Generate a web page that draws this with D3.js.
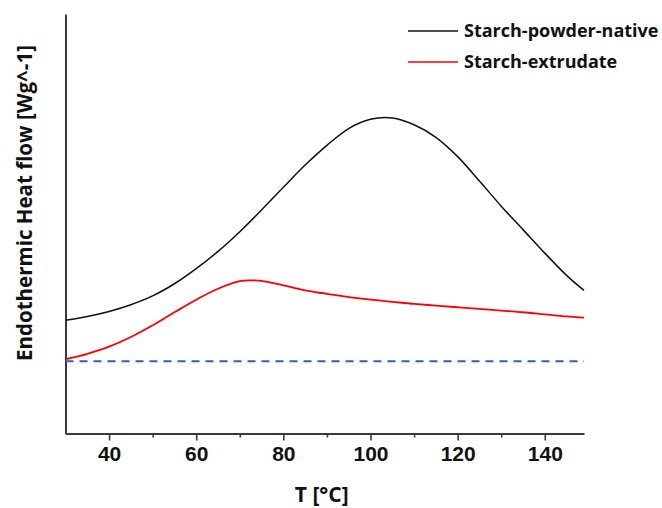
<!DOCTYPE html>
<html>
<head>
<meta charset="utf-8">
<script src="https://cdn.jsdelivr.net/npm/d3@7"></script>
<style>
  html, body { margin: 0; padding: 0; background: #fff; }
  svg { display: block; }
</style>
</head>
<body>
<svg id="chart" width="662" height="508"></svg>
<script>
// ---- data ----
const temperatures = [30, 35, 40, 45, 50, 55, 60, 65, 70, 75, 80, 85, 90, 95, 100, 105, 110, 115, 120, 125, 130, 135, 140, 145, 149];
const nativeFlow   = [0.270, 0.279, 0.291, 0.307, 0.328, 0.357, 0.393, 0.434, 0.481, 0.533, 0.587, 0.640, 0.687, 0.727, 0.749, 0.752, 0.736, 0.706, 0.660, 0.602, 0.542, 0.486, 0.430, 0.377, 0.341];
const extrudateTemps = [30, 35, 40, 45, 50, 55, 60, 65, 70, 72.5, 75, 80, 85, 90, 95, 100, 105, 110, 115, 120, 125, 130, 135, 140, 145, 149];
const extrudateFlow  = [0.177, 0.190, 0.207, 0.230, 0.258, 0.289, 0.319, 0.345, 0.363, 0.365, 0.364, 0.353, 0.341, 0.333, 0.325, 0.319, 0.314, 0.309, 0.305, 0.301, 0.297, 0.293, 0.289, 0.284, 0.279, 0.276];
const baselineTemps = [30, 149];
const baselineFlow  = [0.172, 0.172];
const xTicks = [40, 60, 80, 100, 120, 140];
const xMinorTicks = [50, 70, 90, 110, 130];
const seriesNames = ["Starch-powder-native", "Starch-extrudate"];
const seriesColors = ["#111111", "#ff0000"];
const xTitle = "T [°C]";
const yTitle = "Endothermic Heat flow [Wg^-1]";

// ---- layout ----
const svg = d3.select("#chart");
const mLeft = 65.5, mRight = 584, mTop = 14, mBottom = 433.5;

const x = d3.scaleLinear().domain([30, 149]).range([mLeft, mRight]);
const y = d3.scaleLinear().domain([0, 1]).range([mBottom, mTop]);

const axisColor = "#3a3a3a";
const tickFont = "'Liberation Sans', Arial, sans-serif";
const labelFont = "'Open Sans', 'Noto Sans', sans-serif";

// x axis
const xAxis = svg.append("g").attr("transform", `translate(0,${mBottom})`)
  .call(d3.axisBottom(x).tickValues(xTicks).tickSize(7).tickSizeOuter(0).tickPadding(6));
xAxis.select(".domain").attr("stroke", axisColor).attr("stroke-width", 2);
xAxis.selectAll(".tick line").attr("stroke", axisColor).attr("stroke-width", 1.6);
xAxis.selectAll(".tick text")
  .attr("font-family", tickFont).attr("font-weight", "bold").attr("font-size", 21)
  .attr("fill", "#111");

// minor ticks
const xMinor = svg.append("g").attr("transform", `translate(0,${mBottom})`)
  .call(d3.axisBottom(x).tickValues(xMinorTicks).tickSize(4).tickSizeOuter(0).tickFormat(""));
xMinor.select(".domain").remove();
xMinor.selectAll(".tick line").attr("stroke", axisColor).attr("stroke-width", 1.6);

// y axis (no ticks)
const yAxis = svg.append("g").attr("transform", `translate(${mLeft},0)`)
  .call(d3.axisLeft(y).tickValues([]).tickSizeOuter(0));
yAxis.select(".domain").attr("stroke", axisColor).attr("stroke-width", 2);

// axis titles
svg.append("text")
  .attr("x", (mLeft + mRight) / 2 - 3).attr("y", 502)
  .attr("text-anchor", "middle")
  .attr("font-family", labelFont).attr("font-weight", "bold").attr("font-size", 21)
  .attr("fill", "#111")
  .text(xTitle);

svg.append("text")
  .attr("transform", `translate(32, 203) rotate(-90)`)
  .attr("text-anchor", "middle")
  .attr("font-family", labelFont).attr("font-weight", "bold").attr("font-size", 20.5)
  .attr("fill", "#111")
  .text(yTitle);

// lines
const line = d3.line().x(d => x(d[0])).y(d => y(d[1])).curve(d3.curveCatmullRom.alpha(0.5));

svg.append("path")
  .datum(baselineTemps.map((t, i) => [t, baselineFlow[i]]))
  .attr("d", line)
  .attr("fill", "none").attr("stroke", "#2f5fc4").attr("stroke-width", 2)
  .attr("stroke-dasharray", "8,6");

svg.append("path")
  .datum(temperatures.map((t, i) => [t, nativeFlow[i]]))
  .attr("d", line)
  .attr("fill", "none").attr("stroke", seriesColors[0]).attr("stroke-width", 1.5);

svg.append("path")
  .datum(extrudateTemps.map((t, i) => [t, extrudateFlow[i]]))
  .attr("d", line)
  .attr("fill", "none").attr("stroke", seriesColors[1]).attr("stroke-width", 1.8);

// legend
const legend = svg.append("g").attr("transform", "translate(408, 31)");
seriesNames.forEach((name, i) => {
  const g = legend.append("g").attr("transform", `translate(0, ${i * 31})`);
  g.append("line").attr("x1", 0).attr("x2", 50).attr("y1", 0).attr("y2", 0)
    .attr("stroke", seriesColors[i]).attr("stroke-width", 1.6);
  g.append("text").attr("x", 56).attr("y", 0).attr("dy", "0.35em")
    .attr("font-family", labelFont).attr("font-weight", "bold").attr("font-size", 18)
    .attr("fill", "#111")
    .text(name);
});
</script>
</body>
</html>
